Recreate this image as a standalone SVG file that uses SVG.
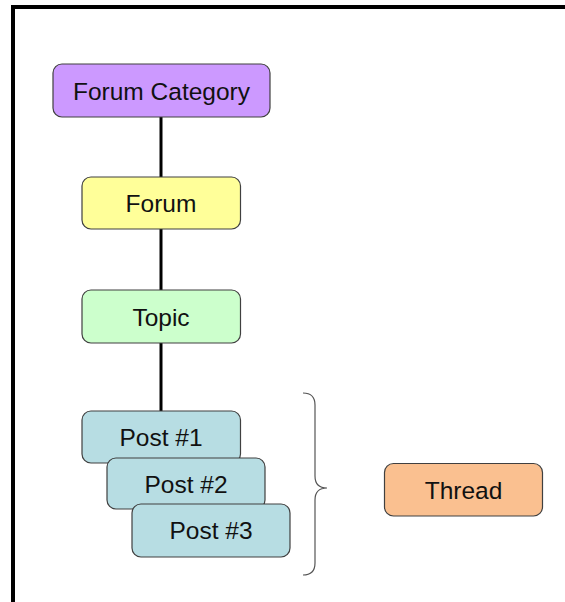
<svg xmlns="http://www.w3.org/2000/svg" width="565" height="602" viewBox="0 0 565 602">
<style>
.box{stroke:#404040;stroke-width:1.2}
.lbl{font-family:"Liberation Sans",Arial,sans-serif;font-size:24.5px;fill:#111;text-anchor:middle;dominant-baseline:central}
.conn{stroke:#000;stroke-width:3;fill:none}
</style>
<rect x="0" y="0" width="565" height="602" fill="#fff"/>
<g id="frame">
<rect x="11" y="5" width="554" height="4" fill="#000"/>
<rect x="11" y="5" width="4" height="597" fill="#000"/>
</g>
<g id="connectors">
<line class="conn" x1="161" y1="117" x2="161" y2="177"/>
<line class="conn" x1="161" y1="229" x2="161" y2="290"/>
<line class="conn" x1="161" y1="343" x2="161" y2="411"/>
<path d="M303,393 Q315,393 315,405 L315,476 Q315,488 327,488 Q315,488 315,500 L315,563 Q315,575 303,575" fill="none" stroke="#555" stroke-width="1.2"/>
</g>
<g id="forum-category">
<rect class="box" x="53" y="64" width="217" height="53" rx="9" fill="#CC99FF"/>
<text class="lbl" x="161.5" y="91">Forum Category</text>
</g>
<g id="forum">
<rect class="box" x="82" y="177" width="158.5" height="52" rx="9" fill="#FFFF99"/>
<text class="lbl" x="161" y="203">Forum</text>
</g>
<g id="topic">
<rect class="box" x="82" y="290" width="158.5" height="53" rx="9" fill="#CCFFCC"/>
<text class="lbl" x="161" y="317">Topic</text>
</g>
<g id="post1">
<rect class="box" x="82" y="411" width="158.5" height="52" rx="9" fill="#B7DDE3"/>
<text class="lbl" x="161" y="437">Post #1</text>
</g>
<g id="post2">
<rect class="box" x="107" y="458" width="158" height="51" rx="9" fill="#B7DDE3"/>
<text class="lbl" x="186" y="484">Post #2</text>
</g>
<g id="post3">
<rect class="box" x="132" y="504" width="158" height="53" rx="9" fill="#B7DDE3"/>
<text class="lbl" x="211" y="530">Post #3</text>
</g>
<g id="thread">
<rect class="box" x="384.5" y="463.5" width="158" height="52.5" rx="9" fill="#FAC090"/>
<text class="lbl" x="463.5" y="490">Thread</text>
</g>
</svg>
